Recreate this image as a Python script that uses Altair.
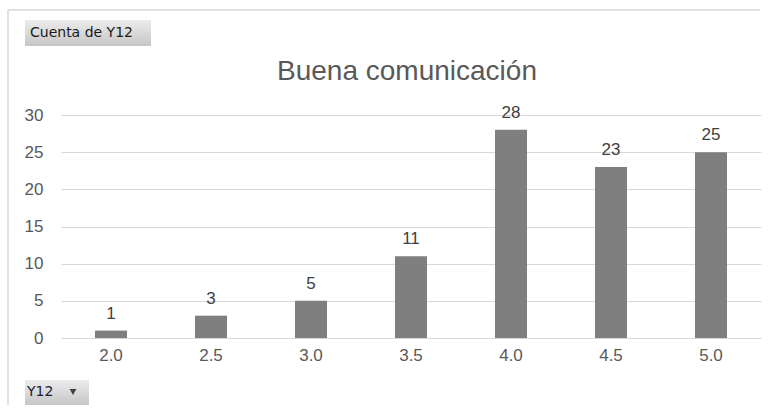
import altair as alt
import pandas as pd

# Pivot chart data: count of Y12 answers per score
categories = ["2.0", "2.5", "3.0", "3.5", "4.0", "4.5", "5.0"]
counts = [1, 3, 5, 11, 28, 23, 25]

TITLE = "Buena comunicación"
FIELD_BUTTON = "Cuenta de Y12"
AXIS_BUTTON = "Y12"

df = pd.DataFrame({"Y12": categories, "Cuenta": counts})
one = pd.DataFrame({"k": [0]})

LABEL_FONT = "Liberation Sans"
BUTTON_FONT = "DejaVu Sans"
GREY_TEXT = "#595959"
GRID = "#d9d9d9"

x_enc = alt.X(
    "Y12:N",
    sort=categories,
    scale=alt.Scale(paddingInner=0.68, paddingOuter=0.34),
    axis=alt.Axis(
        title=None, labelAngle=0, ticks=False, domain=False,
        labelFont=LABEL_FONT, labelFontSize=17, labelColor=GREY_TEXT,
        labelPadding=9,
    ),
)
y_enc = alt.Y(
    "Cuenta:Q",
    scale=alt.Scale(domain=[0, 30], nice=False),
    axis=alt.Axis(
        title=None, values=[0, 5, 10, 15, 20, 25, 30], ticks=False,
        domain=False, grid=True, gridColor=GRID, gridWidth=1.2,
        labelFont=LABEL_FONT, labelFontSize=17, labelColor=GREY_TEXT,
        labelPadding=18,
    ),
)

bars = alt.Chart(df).mark_bar(color="#7f7f7f").encode(x=x_enc, y=y_enc)

values = alt.Chart(df).mark_text(
    font=LABEL_FONT, fontSize=17, color="#404040",
    baseline="alphabetic", dy=-12,
).encode(x=x_enc, y=y_enc, text="Cuenta:Q")

# Chart title, centred over the plot
title = alt.Chart(one).mark_text(
    text=TITLE, font=LABEL_FONT, fontSize=28, color=GREY_TEXT,
    align="center", baseline="alphabetic",
).encode(x=alt.value(346), y=alt.value(-35))

# Chart frame (top and left edges)
frame_top = alt.Chart(one).mark_rule(color=GRID, strokeWidth=1.5).encode(
    x=alt.value(-53), x2=alt.value(699), y=alt.value(-105)
)
frame_left = alt.Chart(one).mark_rule(color=GRID, strokeWidth=1.5).encode(
    x=alt.value(-53), y=alt.value(-105), y2=alt.value(290)
)

button_fill = alt.LinearGradient(
    gradient="linear",
    stops=[
        alt.GradientStop(color="#ececec", offset=0),
        alt.GradientStop(color="#c6c6c6", offset=1),
    ],
    x1=0, x2=0, y1=0, y2=1,
)

# Field buttons of the pivot chart
value_btn = alt.Chart(one).mark_rect(color=button_fill).encode(
    x=alt.value(-36), x2=alt.value(90), y=alt.value(-95), y2=alt.value(-69)
)
value_btn_text = alt.Chart(one).mark_text(
    text=FIELD_BUTTON, font=BUTTON_FONT, fontSize=14, color="#1a1a1a",
    align="left", baseline="middle",
).encode(x=alt.value(-31), y=alt.value(-82))

axis_btn = alt.Chart(one).mark_rect(color=button_fill).encode(
    x=alt.value(-36), x2=alt.value(28), y=alt.value(265), y2=alt.value(290)
)
axis_btn_text = alt.Chart(one).mark_text(
    text=AXIS_BUTTON, font=BUTTON_FONT, fontSize=14, color="#1a1a3a",
    align="left", baseline="middle",
).encode(x=alt.value(-34), y=alt.value(277))
axis_btn_arrow = alt.Chart(one).mark_point(
    shape="triangle-down", filled=True, size=45, color="#404040", opacity=1,
).encode(x=alt.value(12), y=alt.value(277))

chart = alt.layer(
    frame_top, frame_left, bars, values, title,
    value_btn, value_btn_text, axis_btn, axis_btn_text, axis_btn_arrow,
).properties(
    width=700,
    height=223,
    autosize=alt.AutoSizeParams(type="none"),
    padding={"left": 61, "top": 115, "right": 9, "bottom": 77},
    background="white",
).configure_view(stroke=None)

chart.save("out.html", embed_options={"renderer": "svg", "actions": False})
